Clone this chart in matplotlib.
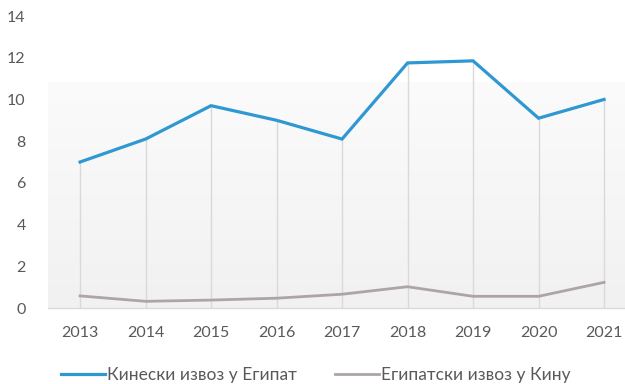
import numpy as np
import matplotlib
matplotlib.use("Agg")
import matplotlib.pyplot as plt
from matplotlib.colors import LinearSegmentedColormap

years = ["2013", "2014", "2015", "2016", "2017", "2018", "2019", "2020", "2021"]
china_to_egypt = [7.0, 8.1, 9.7, 9.0, 8.1, 11.75, 11.85, 9.1, 10.0]
egypt_to_china = [0.58, 0.32, 0.38, 0.47, 0.66, 1.02, 0.56, 0.56, 1.23]
series_labels = ["Кинески извоз у Египат", "Египатски извоз у Кину"]
y_ticks = [0, 2, 4, 6, 8, 10, 12, 14]

plt.rcParams["font.family"] = ["Lato", "DejaVu Sans"]
text_color = "#595959"

fig = plt.figure(figsize=(6.25, 3.84), dpi=100)
W, H = 625, 384
ax = fig.add_axes([48 / W, 1 - 308 / H, (625 - 48) / W, (308 - 16) / H])

x = np.arange(len(years))
ax.set_xlim(-0.49, 8.32)
ax.set_ylim(0, 14)

# soft grey gradient panel behind the series
grad = np.linspace(0, 1, 256).reshape(-1, 1)
cmap = LinearSegmentedColormap.from_list("panel", ["#f1f1f1", "#fbfbfb"])
ax.imshow(grad, cmap=cmap, aspect="auto", origin="lower",
          extent=[-0.49, 8.32, 0, 10.8], zorder=0)

# drop lines from each point down to the axis
ax.vlines(x, 0, china_to_egypt, color="#d9d9d9", lw=1.0, zorder=1)

l1, = ax.plot(x, china_to_egypt, color="#2f98d3", lw=2.3, zorder=3,
              solid_joinstyle="miter", label=series_labels[0])
l2, = ax.plot(x, egypt_to_china, color="#ada5a5", lw=2.0, zorder=3,
              solid_joinstyle="miter", label=series_labels[1])

ax.set_xticks(x)
ax.set_xticklabels(years)
ax.set_yticks(y_ticks)
ax.tick_params(axis="both", length=0, labelsize=11.5, colors=text_color)
ax.tick_params(axis="x", pad=13)
ax.tick_params(axis="y", pad=16)

for s in ["top", "right", "left"]:
    ax.spines[s].set_visible(False)
ax.spines["bottom"].set_color("#d9d9d9")
ax.spines["bottom"].set_linewidth(1.0)

fig.legend(handles=[l1, l2], labels=series_labels, loc="center",
           bbox_to_anchor=(316 / W, 1 - 375 / H), ncol=2, frameon=False,
           fontsize=12.5, labelcolor=text_color, handlelength=2.5,
           handletextpad=0.15, columnspacing=2.2)

fig.savefig("out.png", dpi=100)
